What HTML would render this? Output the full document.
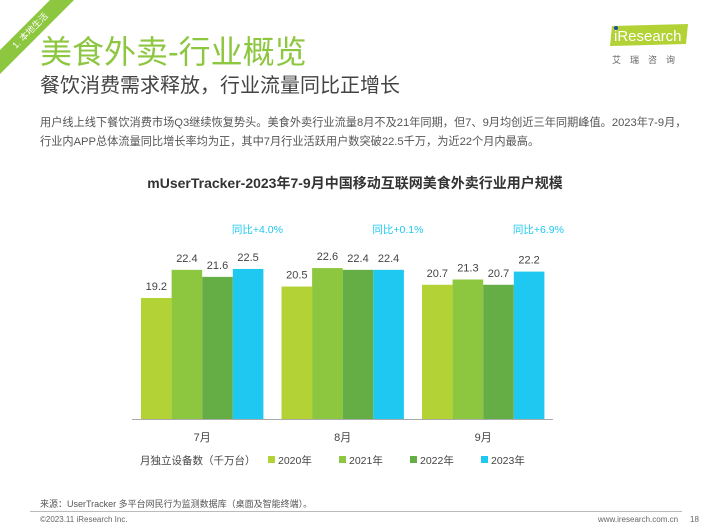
<!DOCTYPE html>
<html><head><meta charset="utf-8"><style>
body{margin:0;width:710px;height:532px;background:#fff;position:relative;overflow:hidden;font-family:"Liberation Sans","Noto Sans CJK SC",sans-serif;}
.a{position:absolute;white-space:nowrap;}
</style></head><body>
<svg class="a" style="left:0;top:0" width="80" height="80">
<polygon points="0,50 0,74 74,0 50,0" fill="#8dc63f"/>
<text x="0" y="0" transform="translate(16,49) rotate(-45)" font-size="9" fill="#fff" font-family="Liberation Sans,Noto Sans CJK SC,sans-serif">1. 本地生活</text>
</svg>
<div class="a" style="left:40px;top:27px;font-size:32px;color:#8dc63f;">美食外卖-行业概览</div>
<div class="a" style="left:40px;top:69px;font-size:20px;color:#444;">餐饮消费需求释放，行业流量同比正增长</div>
<div class="a" style="left:608px;top:24px;">
<svg width="82" height="24"><polygon points="4,2 80,0 78,20 2,22" fill="#b2d235"/><text x="6" y="17" font-size="15" fill="#fff" font-family="Liberation Sans,sans-serif">iResearch</text><circle cx="8" cy="4" r="2" fill="#1d4ea0"/></svg>
<div style="font-size:9px;color:#666;letter-spacing:9px;margin-left:4px;">艾瑞咨询</div></div>
<div class="a" style="left:40px;top:114px;font-size:11.2px;color:#555;line-height:19px;">用户线上线下餐饮消费市场Q3继续恢复势头。美食外卖行业流量8月不及21年同期，但7、9月均创近三年同期峰值。2023年7-9月，<br>行业内APP总体流量同比增长率均为正，其中7月行业活跃用户数突破22.5千万，为近22个月内最高。</div>
<div class="a" style="left:0;width:710px;text-align:center;top:173px;font-size:14px;font-weight:bold;color:#333;">mUserTracker-2023年7-9月中国移动互联网美食外卖行业用户规模</div>
<svg id="chart" class="a" style="left:0;top:0" width="710" height="532"></svg>
<div class="a" style="left:40px;top:497px;font-size:9px;color:#555;">来源：UserTracker 多平台网民行为监测数据库（桌面及智能终端）。</div>
<div class="a" style="left:30px;top:511px;width:652px;height:1px;background:#bbb;"></div>
<div class="a" style="left:40px;top:515px;font-size:8px;color:#666;">©2023.11 iResearch Inc.</div>
<div class="a" style="left:598px;top:515px;font-size:8px;color:#666;">www.iresearch.com.cn</div>
<div class="a" style="left:690px;top:515px;font-size:8px;color:#666;">18</div>
<script>
const categories=["7月","8月","9月"];
const seriesNames=["2020年","2021年","2022年","2023年"];
const s2020=[19.2,20.5,20.7];
const s2021=[22.4,22.6,21.3];
const s2022=[21.6,22.4,20.7];
const s2023=[22.5,22.4,22.2];
const yoyLabels=["同比+4.0%","同比+0.1%","同比+6.9%"];
const series=[s2020,s2021,s2022,s2023];
const colors=["#b2d235","#8dc63f","#65ad45","#1ec8f0"];
const svg=document.getElementById('chart');const NS="http://www.w3.org/2000/svg";
const base=419,vmin=5.43,k=8.79,g0=141,pitch=140.5,bw=30.6;
function y(v){return base-(v-vmin)*k;}
function gx(i){return g0+i*pitch;}
function mk(t,a){const e=document.createElementNS(NS,t);for(const n in a)e.setAttribute(n,a[n]);svg.appendChild(e);return e;}
const F="Liberation Sans, Noto Sans CJK SC, sans-serif";
categories.forEach((c,i)=>{
 series.forEach((s,j)=>{
  const x=gx(i)+j*bw;
  const r=mk('rect',{x:x,y:y(s[i]),width:bw,height:base-y(s[i]),fill:colors[j]});
  
  
  const t=mk('text',{x:x+bw/2,y:y(s[i])-8,'text-anchor':'middle','font-size':11,fill:'#444','font-family':F});
  t.textContent=s[i].toFixed(1);
  
  
 });
 const yl=mk('text',{x:gx(i)+4*bw-6,y:233,'text-anchor':'middle','font-size':10.5,fill:'#1ec8f0','font-family':F});
 yl.textContent=yoyLabels[i];
 
 
 const cl=mk('text',{x:gx(i)+2*bw,y:441,'text-anchor':'middle','font-size':11,fill:'#444','font-family':F});
 cl.textContent=c;
 
 
});
const ax=mk('line',{x1:132,x2:553,y1:base+0.5,y2:base+0.5,stroke:'#aaa','stroke-width':1});


const ut=mk('text',{x:140,y:464,'font-size':10.5,fill:'#444','font-family':F});
ut.textContent="月独立设备数（千万台）";


seriesNames.forEach((n,j)=>{
 const lx=268+j*71;
 const sw=mk('rect',{x:lx,y:456,width:7,height:7,fill:colors[j]});
 
 
 const lt=mk('text',{x:lx+10,y:464,'font-size':10.5,fill:'#444','font-family':F});
 lt.textContent=n;
 
 
});
</script>
</body></html>
